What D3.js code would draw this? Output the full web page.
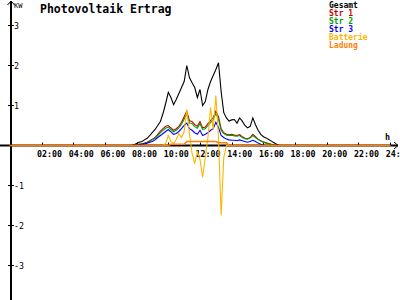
<!DOCTYPE html>
<html>
<head>
<meta charset="utf-8">
<script src="https://cdn.jsdelivr.net/npm/d3@7"></script>
<style>
body{margin:0;background:#fff}
svg{display:block;background:#fff}
text{font-family:"DejaVu Sans Mono",monospace}
</style>
</head>
<body>
<svg id="chart" width="400" height="300"></svg>
<script>
// samples every 10 minutes, starting 07:30 (0 before and after)
const startHour = 7.5;
const stepMinutes = 10;

const gesamt = [0,0,0.02,0.05,0.08,0.1,0.14,0.18,0.25,0.33,0.4,0.5,0.6,0.8,1.05,1.33,1.2,1.02,1.15,1.3,1.45,1.6,2.0,1.7,1.57,1.45,1.2,1.4,1.0,1.1,1.4,1.6,1.75,1.9,2.07,1.35,0.82,0.69,0.61,0.64,0.65,0.56,0.69,0.61,0.5,0.44,0.48,0.69,0.52,0.38,0.28,0.22,0.19,0.15,0.11,0.07,0.03,0];
const str1   = [0,0,0,0.02,0.03,0.04,0.06,0.08,0.12,0.16,0.2,0.28,0.36,0.42,0.48,0.5,0.44,0.38,0.42,0.48,0.58,0.72,0.86,0.62,0.6,0.52,0.48,0.6,0.44,0.46,0.55,0.62,0.7,0.86,0.72,0.42,0.32,0.28,0.27,0.28,0.26,0.25,0.27,0.22,0.18,0.17,0.2,0.28,0.22,0.16,0.12,0.09,0.07,0.05,0.03,0.01,0,0];
const str2   = [0,0,0,0.02,0.03,0.04,0.05,0.07,0.1,0.14,0.18,0.25,0.32,0.38,0.43,0.46,0.4,0.34,0.38,0.44,0.53,0.66,0.8,0.56,0.55,0.47,0.43,0.55,0.4,0.42,0.5,0.57,0.65,0.8,0.66,0.38,0.3,0.26,0.25,0.26,0.24,0.23,0.25,0.2,0.17,0.16,0.19,0.25,0.2,0.15,0.11,0.08,0.06,0.04,0.02,0.01,0,0];
const str3   = [0,0,0,0.01,0.02,0.03,0.04,0.06,0.08,0.1,0.14,0.2,0.25,0.3,0.35,0.4,0.34,0.28,0.3,0.35,0.42,0.5,0.56,0.42,0.38,0.32,0.28,0.38,0.25,0.28,0.32,0.38,0.42,0.58,0.45,0.25,0.2,0.16,0.14,0.13,0.13,0.12,0.14,0.12,0.1,0.08,0.1,0.13,0.1,0.06,0.03,0.01,0,0,0,0,0,0];
const batterie = [0,0,0,0,0,0,0,0,0,0,0,0,0,0,0.05,0.25,0.1,0.05,0.15,0.3,0.2,0.35,0.9,0.3,-0.2,-0.45,-0.15,-0.35,-0.8,-0.3,0.2,0.95,0.4,1.25,0.2,-1.75,-0.3,0,0,0,0,0,0,0,0,0,0,0,0,0,0,0,0,0,0,0,0,0];
const ladung   = [0,0,0,0,0,0,0,0,0,0,0,0,0,0,0,0,0.03,0.03,0.03,0.03,0.03,0.03,0.1,0.1,0.1,0.1,0.1,0.1,0.1,0.1,0.1,0.1,0.1,0.1,0.07,0.07,0.07,0.07,0,0,0,0,0,0,0,0,0,0,0,0,0,0,0,0,0,0,0,0];

const seriesNames  = ['Gesamt','Str 1','Str 2','Str 3','Batterie','Ladung'];
const seriesValues = [gesamt,str1,str2,str3,batterie,ladung];
const seriesColors = ['#000000','#c80000','#00a000','#0000ff','#ffb400','#ff8000'];

const xTicks = [2,4,6,8,10,12,14,16,18,20,22,24];
const yTicks = [-3,-2,-1,1,2,3];

const svg = d3.select('#chart');
const x = d3.scaleLinear().domain([0,24]).range([9.8,390.2]);
const y = d3.scaleLinear().domain([-3,3]).range([265.5,25.5]);

// axes
svg.append('line').attr('x1',11).attr('x2',11).attr('y1',1).attr('y2',300)
    .attr('stroke','#000').attr('stroke-width',2);
svg.append('path').attr('d','M7.5,5L11,1L14.5,5').attr('fill','none').attr('stroke','#000');
svg.append('line').attr('x1',0).attr('x2',398).attr('y1',y(0)).attr('y2',y(0))
    .attr('stroke','#000').attr('stroke-width',2);
svg.append('path').attr('d',`M394,${y(0)-3.5}L398,${y(0)}L394,${y(0)+3.5}`).attr('fill','none').attr('stroke','#000');

svg.selectAll('line.ytick').data(yTicks).join('line')
    .attr('class','ytick')
    .attr('x1',8).attr('x2',14)
    .attr('y1',d=>y(d)).attr('y2',d=>y(d))
    .attr('stroke','#000');
svg.selectAll('text.ylab').data(yTicks).join('text')
    .attr('class','ylab')
    .attr('x',14).attr('y',d=>y(d)+3.5)
    .attr('font-size',8.3)
    .text(d=>d);
svg.append('text').attr('x',14).attr('y',8).attr('font-size',7).text('KW');

svg.selectAll('line.xtick').data(xTicks).join('line')
    .attr('class','xtick')
    .attr('x1',d=>Math.round(x(d))+0.5).attr('x2',d=>Math.round(x(d))+0.5)
    .attr('y1',y(0)-3).attr('y2',y(0))
    .attr('stroke','#000');
svg.selectAll('text.xlab').data(xTicks).join('text')
    .attr('class','xlab')
    .attr('x',d=>x(d)-4.5).attr('y',157)
    .attr('font-size',8.3).attr('font-weight','bold')
    .text(d=>d3.format('02d')(d)+':00');
svg.append('text').attr('x',385).attr('y',140).attr('font-size',8.3).attr('font-weight','bold').text('h');

// lines
const line = d3.line().x(d=>x(d[0])).y(d=>y(d[1]));
seriesValues.forEach((vals,k)=>{
    const pts = [[0,0]].concat(vals.map((v,i)=>[startHour+i*stepMinutes/60,v]),[[24,0]]);
    svg.append('path')
        .datum(pts)
        .attr('d',line)
        .attr('fill','none')
        .attr('stroke',seriesColors[k])
        .attr('stroke-width',k===5?1.6:1.1);
});

// title + legend
svg.append('text').attr('x',40).attr('y',12.5)
    .attr('font-size',11.5).attr('font-weight','bold')
    .text('Photovoltaik Ertrag');
svg.selectAll('text.leg').data(seriesNames).join('text')
    .attr('class','leg')
    .attr('x',329).attr('y',(d,i)=>7.5+i*8)
    .attr('font-size',8).attr('font-weight','bold')
    .attr('fill',(d,i)=>seriesColors[i])
    .text(d=>d);
</script>
</body>
</html>
